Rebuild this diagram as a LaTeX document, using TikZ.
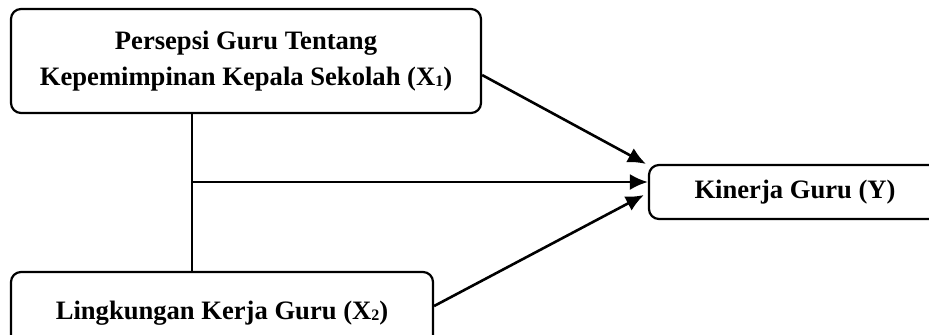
\documentclass[tikz,border=0pt]{standalone}
\usepackage{fontspec}
\setmainfont{Liberation Serif}
\usetikzlibrary{arrows.meta}
\newcommand{\varsub}[1]{\raisebox{-0.5pt}{\fontsize{8}{8}\selectfont #1}}

\begin{document}
\begin{tikzpicture}[x=0.5pt, y=-0.5pt,
		box/.style = {draw, line width=1.1pt, rounded corners=5pt, align=center, inner sep=0pt,
			font=\fontsize{13.3}{18}\selectfont\bfseries},
		arr/.style = {line width=1.3pt, -{Latex[length=9pt, width=8pt]}}]
		\useasboundingbox (0,0) rectangle (929,334);
		% variabel
		\node[box, minimum width=235pt, minimum height=52pt] (x1) at (246,61)
			{Persepsi Guru Tentang\\Kepemimpinan Kepala Sekolah (X\varsub{1})};
		\node[box, minimum width=211pt, minimum height=41pt] (x2) at (222,313)
			{Lingkungan Kerja Guru (X\varsub{2})};
		\node[box, minimum width=146pt, minimum height=27pt] (y) at (795,192)
			{Kinerja Guru (Y)};
		% hubungan
		\coordinate (j) at (192,182);
		\draw[line width=1.3pt] (j |- x1.south) -- (j |- x2.north);
		\draw[arr] (j) -- (j -| y.west);
		\draw[arr] (x1.east |- 0,75) -- ([xshift=-1pt]y.north west);
		\draw[arr] (x2.east |- 0,306) -- ([xshift=-2pt]y.west |- 0,195);
	\end{tikzpicture}
\end{document}
